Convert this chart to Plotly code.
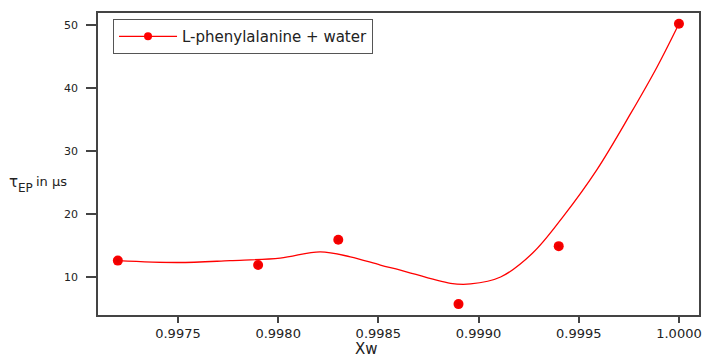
import plotly.graph_objects as go

# measured points
xw = [0.9972, 0.9979, 0.9983, 0.9989, 0.9994, 1.0000]
tau = [12.6, 11.9, 15.9, 5.7, 14.9, 50.2]

# smooth fitted curve
curve_x = [0.99720, 0.99750, 0.99776, 0.99801, 0.99821, 0.99836, 0.99851, 0.99861,
           0.99886, 0.99896, 0.99911, 0.99927, 0.99942, 0.99959, 0.99976, 0.99989, 1.00000]
curve_y = [12.6, 12.3, 12.6, 13.0, 14.0, 13.2, 11.9, 11.1,
           9.0, 8.9, 10.0, 13.8, 19.5, 27.0, 36.0, 43.3, 50.2]

x_ticks = [0.9975, 0.9980, 0.9985, 0.9990, 0.9995, 1.0000]
x_tick_labels = ["0.9975", "0.9980", "0.9985", "0.9990", "0.9995", "1.0000"]
y_ticks = [10, 20, 30, 40, 50]

series_name = "L-phenylalanine + water"
RED = "#ff0000"
FONT = "DejaVu Sans"
TXT = "#222"

fig = go.Figure()
fig.add_trace(go.Scatter(x=curve_x, y=curve_y, mode="lines",
                         line=dict(color=RED, width=1.3, shape="spline", smoothing=1.0),
                         showlegend=False, hoverinfo="skip"))
fig.add_trace(go.Scatter(x=xw, y=tau, mode="markers", showlegend=False,
                         marker=dict(color=RED, size=10, symbol="circle", line=dict(width=0),
                                     gradient=dict(type="radial", color="#e00000"))))
fig.add_trace(go.Scatter(x=[None], y=[None], mode="lines+markers", name=series_name,
                         line=dict(color=RED, width=1.3),
                         marker=dict(color=RED, size=8, line=dict(width=0))))

axis_common = dict(showline=True, linecolor="#444", linewidth=1.5, mirror=True,
                   ticks="outside", tickcolor="#444", tickwidth=1.5, showgrid=False,
                   zeroline=False, automargin=False)

fig.update_xaxes(range=[0.997101, 1.0001], tickvals=x_ticks, ticktext=x_tick_labels, ticklen=6,
                 tickfont=dict(family=FONT, size=13, color=TXT), **axis_common)
fig.update_yaxes(range=[3.97, 51.9], tickvals=y_ticks, ticklen=10, ticklabelstandoff=6,
                 tickfont=dict(family=FONT, size=11, color=TXT), **axis_common)

# y-axis title pieces: tau, subscript EP, then "in μs"
fig.add_annotation(xref="paper", yref="paper", x=-0.1514, y=0.4404, xanchor="left", yanchor="middle",
                   showarrow=False, text="τ", font=dict(family=FONT, size=15, color=TXT))
fig.add_annotation(xref="paper", yref="paper", x=-0.1364, y=0.4205, xanchor="left", yanchor="middle",
                   showarrow=False, text="EP", font=dict(family=FONT, size=12, color=TXT))
fig.add_annotation(xref="paper", yref="paper", x=-0.1065, y=0.4437, xanchor="left", yanchor="middle",
                   showarrow=False, text="in μs", font=dict(family=FONT, size=13, color=TXT))
# x-axis title
fig.add_annotation(xref="paper", yref="paper", x=0.446, y=-0.1126, xanchor="center", yanchor="middle",
                   showarrow=False, text="Xw", font=dict(family=FONT, size=15, color=TXT))

fig.update_layout(
    width=706, height=358,
    margin=dict(l=98, r=7, t=13, b=43),
    paper_bgcolor="white", plot_bgcolor="white",
    legend=dict(x=0.025, y=0.98, xanchor="left", yanchor="top",
                bordercolor="#555", borderwidth=1, bgcolor="white",
                font=dict(family=FONT, size=15, color=TXT),
                itemwidth=58, tracegroupgap=0),
)

fig.write_html("out.html")
